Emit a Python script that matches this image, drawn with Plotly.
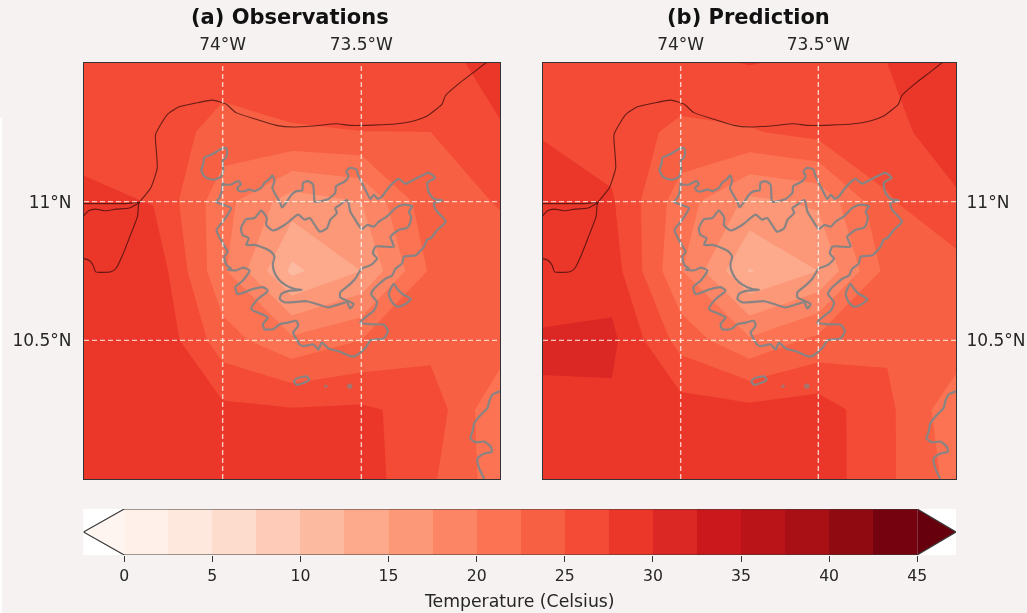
import plotly.graph_objects as go

# Grid of the temperature fields
lons = [-74.5, -74.25, -74.0, -73.75, -73.5, -73.25, -73.0]
lats = [10.0, 10.25, 10.5, 10.75, 11.0, 11.25, 11.5]

obs_temp = [
    [28.8, 29.0, 29.0, 28.8, 28.7, 25.4, 21.1],
    [29.2, 29.4, 28.1, 27.7, 27.9, 26.6, 20.2],
    [29.5, 29.9, 23.6, 20.6, 22.5, 24.1, 24.1],
    [29.6, 29.4, 20.5, 11.9, 15.0, 22.9, 24.3],
    [28.1, 27.4, 20.9, 16.2, 17.5, 24.3, 25.1],
    [26.5, 26.5, 24.05, 24.8, 24.98, 24.99, 27.36],
    [26.5, 26.3, 26.2, 26.3, 26.2, 26.9, 28.1],
]
pred_temp = [
    [29.0, 29.2, 29.2, 29.0, 28.9, 25.5, 21.6],
    [29.7, 29.5, 28.7, 28.3, 28.8, 25.6, 20.8],
    [30.3, 30.6, 24.0, 20.4, 23.2, 24.6, 24.1],
    [28.7, 28.8, 20.2, 12.3, 15.0, 23.3, 24.0],
    [29.0, 27.8, 21.2, 16.9, 17.9, 24.7, 27.1],
    [27.3, 26.3, 24.4, 24.76, 25.85, 26.6, 29.0],
    [26.5, 26.6, 26.9, 27.6, 27.0, 27.5, 29.2],
]

panel_titles = ["(a) Observations", "(b) Prediction"]
lon_ticks = [-74.0, -73.5]
lon_labels = ["74°W", "73.5°W"]
lat_ticks = [11.0, 10.5]
lat_labels = ["11°N", "10.5°N"]
levels = [i * 2.5 for i in range(19)]
cbar_ticks = [0, 5, 10, 15, 20, 25, 30, 35, 40, 45]
cbar_title = "Temperature (Celsius)"
reds = ["#fff5f0", "#fee0d2", "#fcbba1", "#fc9272", "#fb6a4a", "#ef3b2c", "#cb181d", "#a50f15", "#67000d"]

# Coastline
coast_lon = [-73.043, -73.094, -73.143, -73.197, -73.209, -73.263, -73.312, -73.372, -73.457, -73.541, -73.589,
             -73.674, -73.746, -73.807, -73.879, -73.952, -73.988, -74.036, -74.085, -74.157, -74.199, -74.242,
             -74.239, -74.236, -74.260, -74.302, -74.307, -74.337, -74.361, -74.385, -74.403, -74.458, -74.467,
             -74.482, -74.501]
coast_lat = [11.507, 11.467, 11.430, 11.382, 11.352, 11.309, 11.291, 11.281, 11.276, 11.275, 11.281,
             11.273, 11.269, 11.275, 11.297, 11.321, 11.352, 11.366, 11.358, 11.342, 11.315, 11.242,
             11.182, 11.121, 11.048, 10.994, 10.947, 10.868, 10.807, 10.759, 10.747, 10.747, 10.771,
             10.789, 10.795]
lagoon_lon = [-74.501, -74.464, -74.409, -74.349, -74.301, -74.337, -74.385, -74.421, -74.458, -74.482, -74.501]
lagoon_lat = [10.993, 10.993, 10.993, 10.993, 10.997, 10.977, 10.973, 10.967, 10.973, 10.968, 10.949]

# Grey outlines
outer_lon = [-74.000, -73.996, -73.970, -73.958, -73.942, -73.934, -73.948, -73.940, -73.921, -73.903, -73.885,
             -73.861, -73.849, -73.831, -73.821, -73.813, -73.821, -73.809, -73.792, -73.786, -73.764, -73.752,
             -73.734, -73.713, -73.710, -73.692, -73.674, -73.671, -73.668, -73.656, -73.649, -73.618, -73.594,
             -73.591, -73.558, -73.546, -73.554, -73.540, -73.518, -73.510, -73.498, -73.486, -73.467, -73.455,
             -73.441, -73.425, -73.407, -73.385, -73.365, -73.341, -73.313, -73.256, -73.234, -73.262, -73.256,
             -73.238, -73.208, -73.238, -73.232, -73.196, -73.226, -73.250, -73.262, -73.274, -73.304, -73.347,
             -73.353, -73.377, -73.389, -73.413, -73.455, -73.465, -73.443, -73.455, -73.479, -73.504, -73.467,
             -73.419, -73.404, -73.419, -73.467, -73.485, -73.522, -73.540, -73.576, -73.619, -73.643, -73.655,
             -73.673, -73.709, -73.722, -73.734, -73.746, -73.728, -73.734, -73.764, -73.794, -73.818, -73.849,
             -73.855, -73.837, -73.861, -73.897, -73.873, -73.837, -73.855, -73.891, -73.946, -73.954, -73.927,
             -73.903, -73.927, -73.952, -73.982, -73.970, -73.986, -73.994, -73.982, -73.994, -74.010, -74.022,
             -74.000, -73.982, -73.970, -74.000, -74.024, -74.012, -74.002, -74.000]
outer_lat = [11.070, 11.062, 11.062, 11.068, 11.074, 11.062, 11.050, 11.038, 11.038, 11.044, 11.038,
             11.050, 11.068, 11.082, 11.095, 11.074, 11.050, 11.025, 10.995, 10.979, 11.007, 11.025,
             11.038, 11.041, 11.068, 11.074, 11.062, 11.032, 11.001, 10.999, 11.001, 11.010, 11.032,
             11.056, 11.074, 11.092, 11.110, 11.122, 11.116, 11.092, 11.068, 11.044, 11.010, 11.025,
             11.010, 11.019, 11.044, 11.068, 11.082, 11.065, 11.078, 11.104, 11.086, 11.068, 11.032,
             11.010, 11.004, 10.995, 10.971, 10.928, 10.898, 10.868, 10.864, 10.838, 10.807, 10.801,
             10.777, 10.758, 10.734, 10.722, 10.685, 10.667, 10.637, 10.607, 10.588, 10.564, 10.558,
             10.556, 10.534, 10.507, 10.500, 10.473, 10.443, 10.443, 10.459, 10.471, 10.492, 10.467,
             10.485, 10.479, 10.485, 10.504, 10.528, 10.552, 10.570, 10.564, 10.558, 10.540, 10.540,
             10.558, 10.582, 10.595, 10.613, 10.649, 10.679, 10.692, 10.685, 10.667, 10.692, 10.716,
             10.752, 10.762, 10.752, 10.755, 10.759, 10.771, 10.801, 10.819, 10.840, 10.868, 10.898,
             10.928, 10.953, 10.977, 10.989, 11.000, 11.013, 11.044, 11.070]
inner_lon = [-73.934, -73.915, -73.885, -73.861, -73.841, -73.843, -73.819, -73.777, -73.746, -73.728, -73.704,
             -73.686, -73.668, -73.650, -73.624, -73.612, -73.588, -73.594, -73.576, -73.552, -73.546, -73.540,
             -73.522, -73.498, -73.479, -73.455, -73.437, -73.407, -73.377, -73.347, -73.316, -73.328, -73.320,
             -73.332, -73.365, -73.395, -73.383, -73.419, -73.449, -73.458, -73.443, -73.467, -73.498, -73.504,
             -73.522, -73.546, -73.576, -73.576, -73.546, -73.528, -73.540, -73.552, -73.576, -73.619, -73.661,
             -73.697, -73.776, -73.794, -73.788, -73.758, -73.715, -73.740, -73.776, -73.800, -73.816, -73.819,
             -73.813, -73.825, -73.849, -73.885, -73.915, -73.906, -73.928, -73.934]
inner_lat = [10.904, 10.937, 10.941, 10.968, 10.941, 10.916, 10.896, 10.916, 10.941, 10.953, 10.935,
             10.941, 10.916, 10.892, 10.904, 10.935, 10.959, 10.977, 10.989, 11.007, 10.995, 10.965,
             10.935, 10.901, 10.916, 10.910, 10.928, 10.947, 10.977, 10.989, 10.983, 10.965, 10.941,
             10.908, 10.898, 10.874, 10.838, 10.838, 10.838, 10.813, 10.795, 10.771, 10.759, 10.752,
             10.722, 10.698, 10.673, 10.655, 10.641, 10.631, 10.615, 10.637, 10.631, 10.619, 10.631,
             10.641, 10.637, 10.649, 10.667, 10.679, 10.682, 10.685, 10.701, 10.722, 10.752, 10.777,
             10.801, 10.819, 10.832, 10.844, 10.844, 10.868, 10.880, 10.904]
pond_lon = [-74.000, -74.024, -74.046, -74.066, -74.070, -74.077, -74.066, -74.048, -74.027, -74.006, -73.998,
            -74.000, -73.988, -73.984, -73.988, -74.000]
pond_lat = [11.193, 11.179, 11.167, 11.159, 11.135, 11.114, 11.092, 11.082, 11.080, 11.090, 11.116,
            11.147, 11.159, 11.177, 11.193, 11.193]
lake_lon = [-73.383, -73.401, -73.389, -73.370, -73.346, -73.322, -73.352, -73.370, -73.383]
lake_lat = [10.704, 10.667, 10.637, 10.621, 10.628, 10.649, 10.667, 10.685, 10.704]
islet_lon = [-73.743, -73.734, -73.697, -73.688, -73.709, -73.734, -73.743]
islet_lat = [10.352, 10.362, 10.370, 10.358, 10.346, 10.340, 10.352]
dots_lon = [-73.628, -73.542]
dots_lat = [10.334, 10.334]
se_lon = [-72.999, -73.027, -73.039, -73.045, -73.069, -73.093, -73.099, -73.107, -73.087, -73.057, -73.033,
          -73.030, -73.057, -73.081, -73.075, -73.057]
se_lat = [10.316, 10.304, 10.280, 10.256, 10.232, 10.201, 10.171, 10.147, 10.132, 10.135, 10.116,
          10.098, 10.092, 10.074, 10.038, 10.001]

BG = "#f7f2f2"
W, H = 1027, 613
FONT = "DejaVu Sans"
INK = "#262626"
colorscale = [[i / (len(reds) - 1), c] for i, c in enumerate(reds)]
GREY = "#888484"
COAST = "rgba(40,8,8,0.68)"
GRID = "rgba(255,255,255,0.72)"

fig = go.Figure()
panels = [(obs_temp, "x", "y"), (pred_temp, "x2", "y2")]
for z, xa, ya in panels:
    fig.add_trace(go.Contour(
        x=lons, y=lats, z=z, xaxis=xa, yaxis=ya,
        colorscale=colorscale, zmin=levels[0], zmax=levels[-1], showscale=False,
        autocontour=False,
        contours=dict(start=levels[0], end=levels[-1], size=2.5, coloring="fill", showlines=False),
        line=dict(width=0, smoothing=0), hoverinfo="skip",
    ))
    for lx, ly in [(coast_lon, coast_lat), (lagoon_lon, lagoon_lat)]:
        fig.add_trace(go.Scatter(x=lx, y=ly, xaxis=xa, yaxis=ya, mode="lines", hoverinfo="skip",
                                 line=dict(color=COAST, width=1.1, shape="spline", smoothing=0.5)))
    for lx, ly in [(outer_lon, outer_lat), (inner_lon, inner_lat), (pond_lon, pond_lat),
                   (lake_lon, lake_lat), (islet_lon, islet_lat), (se_lon, se_lat)]:
        fig.add_trace(go.Scatter(x=lx, y=ly, xaxis=xa, yaxis=ya, mode="lines", hoverinfo="skip",
                                 line=dict(color=GREY, width=2.2, shape="spline", smoothing=0.6)))
    fig.add_trace(go.Scatter(x=dots_lon, y=dots_lat, xaxis=xa, yaxis=ya, mode="markers", hoverinfo="skip",
                             marker=dict(color=GREY, size=[3.5, 5.5], line=dict(width=0))))
    for t in lon_ticks:
        fig.add_trace(go.Scatter(x=[t, t], y=[lats[0], lats[-1]], xaxis=xa, yaxis=ya, mode="lines", hoverinfo="skip",
                                 line=dict(color=GRID, width=1.4, dash="5px,3px")))
    for t in lat_ticks:
        fig.add_trace(go.Scatter(x=[lons[0], lons[-1]], y=[t, t], xaxis=xa, yaxis=ya, mode="lines", hoverinfo="skip",
                                 line=dict(color=GRID, width=1.4, dash="5px,3px")))

# Colour bar
mids = [(a + b) / 2 for a, b in zip(levels[:-1], levels[1:])]
fig.add_trace(go.Heatmap(x=levels, y=[0, 1], z=[mids], xaxis="x3", yaxis="y3", colorscale=colorscale,
                         zmin=levels[0], zmax=levels[-1], showscale=False, hoverinfo="skip"))
ext_lo = levels[0] - 2.31
ext_hi = levels[-1] + 2.2
fig.add_trace(go.Scatter(x=[levels[0], ext_lo, levels[0], levels[0]], y=[0, 0.5, 1, 0], xaxis="x3", yaxis="y3",
                         mode="lines", fill="toself", fillcolor=reds[0], line=dict(width=0), hoverinfo="skip"))
fig.add_trace(go.Scatter(x=[levels[-1], ext_hi, levels[-1], levels[-1]], y=[0, 0.5, 1, 0], xaxis="x3", yaxis="y3",
                         mode="lines", fill="toself", fillcolor=reds[-1], line=dict(width=0), hoverinfo="skip"))
fig.add_trace(go.Scatter(x=[levels[0], ext_lo, levels[0], levels[-1], ext_hi, levels[-1], levels[0]],
                         y=[0, 0.5, 1, 1, 0.5, 0, 0], xaxis="x3", yaxis="y3", mode="lines",
                         line=dict(color="#3a3a3a", width=1.2), hoverinfo="skip"))


def dom(a, b, n):
    return [a / n, b / n]


def ydom(top, bottom):
    return [(H - bottom) / H, (H - top) / H]


tickfont = dict(family=FONT, size=17, color=INK)
common_x = dict(range=[lons[0], lons[-1]], tickvals=lon_ticks, ticktext=lon_labels, side="top", showgrid=False,
                zeroline=False, showline=True, mirror=True, linecolor="#333333", linewidth=1.2, ticks="outside",
                ticklen=5, tickcolor="rgba(0,0,0,0)", tickfont=tickfont, tickangle=0)
common_y = dict(range=[lats[0], lats[-1]], tickvals=lat_ticks, ticktext=lat_labels, showgrid=False, zeroline=False,
                showline=True, mirror=True, linecolor="#333333", linewidth=1.2, ticks="outside",
                tickcolor="rgba(0,0,0,0)", tickfont=tickfont)

fig.update_layout(
    width=W, height=H, margin=dict(l=0, r=0, t=0, b=0), autosize=False,
    paper_bgcolor=BG, plot_bgcolor="white", showlegend=False,
    font=dict(family=FONT, color=INK),
    xaxis=dict(domain=dom(84, 500, W), anchor="y", **common_x),
    yaxis=dict(domain=ydom(63, 479), anchor="x", side="left", ticklen=8, **common_y),
    xaxis2=dict(domain=dom(543, 956, W), anchor="y2", **common_x),
    yaxis2=dict(domain=ydom(63, 479), anchor="x2", side="right", ticklen=6, **common_y),
    xaxis3=dict(domain=dom(83.5, 956, W), anchor="y3", range=[ext_lo, ext_hi], tickvals=cbar_ticks,
                ticks="outside", ticklen=6, tickcolor="#333333", tickwidth=1.2, showgrid=False, zeroline=False,
                tickfont=dict(family=FONT, size=15.7, color=INK),
                title=dict(text=cbar_title, font=dict(family=FONT, size=17.3, color=INK), standoff=11)),
    yaxis3=dict(domain=ydom(509, 555), anchor="x3", range=[0, 1], visible=False),
    annotations=[
        dict(text=f"<b>{panel_titles[0]}</b>", xref="paper", yref="paper", x=290 / W, y=1 - 17 / H, showarrow=False,
             xanchor="center", yanchor="middle", font=dict(family=FONT, size=21, color="#111111")),
        dict(text=f"<b>{panel_titles[1]}</b>", xref="paper", yref="paper", x=748.5 / W, y=1 - 17 / H, showarrow=False,
             xanchor="center", yanchor="middle", font=dict(family=FONT, size=21, color="#111111")),
    ],
    shapes=[dict(type="rect", xref="paper", yref="paper", x0=0, x1=2 / W, y0=0, y1=1 - 118 / H,
                 fillcolor="white", line=dict(width=0), layer="below")],
)

fig.write_html("out.html", config=dict(displayModeBar=False),
               post_script="document.body.style.margin='0';document.body.style.background='%s';document.documentElement.style.overflow='hidden';document.querySelector('.plotly-graph-div').style.filter='blur(0.5px)';" % BG)
